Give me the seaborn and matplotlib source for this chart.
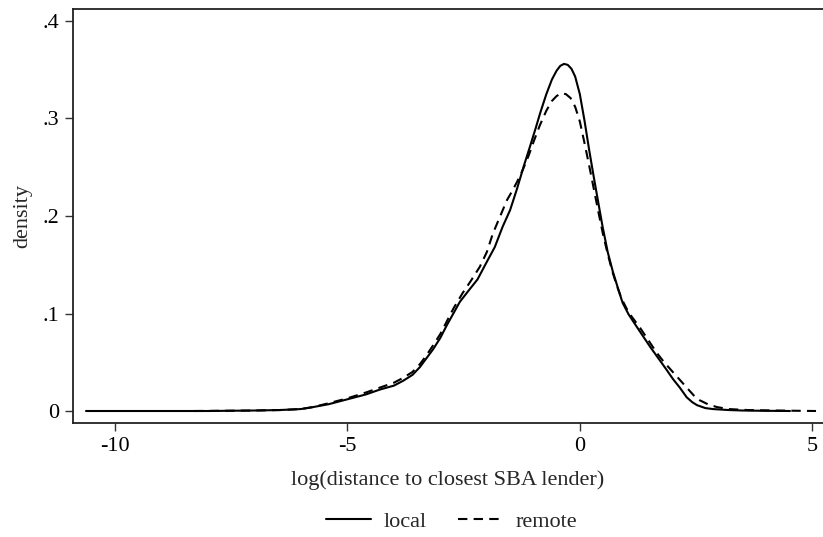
import matplotlib
matplotlib.use("Agg")
import matplotlib.pyplot as plt
import seaborn as sns
import pandas as pd
from matplotlib.lines import Line2D

# Kernel density of log distance to the closest SBA lender, by borrower type
local_x = [-10.62, -8.0, -7.0, -6.45, -6.0, -5.74, -5.4, -5.0, -4.6, -4.3, -4.0, -3.8,
           -3.6, -3.44, -3.3, -3.16, -3.0, -2.86, -2.72, -2.58, -2.4, -2.2, -2.0, -1.83,
           -1.66, -1.5, -1.35, -1.2, -1.08, -0.95, -0.85, -0.72, -0.6, -0.5, -0.42,
           -0.34, -0.26, -0.18, -0.1, 0.0, 0.1, 0.2, 0.3, 0.4, 0.49, 0.6, 0.71, 0.82, 0.92,
           1.05, 1.23, 1.37, 1.51, 1.72, 1.87, 2.0, 2.15, 2.3, 2.42, 2.52, 2.7, 2.86,
           3.2, 3.5, 4.0, 4.52]
local_y = [0.0, 0.0, 0.0005, 0.001, 0.002, 0.004, 0.007, 0.012, 0.017, 0.022, 0.026, 0.031,
           0.037, 0.045, 0.054, 0.063, 0.075, 0.088, 0.100, 0.112, 0.123, 0.135, 0.153, 0.168,
           0.189, 0.206, 0.228, 0.252, 0.270, 0.290, 0.306, 0.325, 0.340, 0.349, 0.354,
           0.356, 0.355, 0.351, 0.343, 0.325, 0.298, 0.268, 0.240, 0.213, 0.189, 0.163, 0.143,
           0.126, 0.111, 0.099, 0.086, 0.076, 0.066, 0.052, 0.042, 0.033, 0.024, 0.014,
           0.009, 0.006, 0.003, 0.002, 0.001, 0.0005, 0.0002, 0.0]

remote_x = [-8.3, -7.0, -6.45, -6.0, -5.74, -5.4, -5.0, -4.6, -4.3, -4.0, -3.8, -3.6,
            -3.44, -3.3, -3.16, -3.0, -2.86, -2.72, -2.52, -2.35, -2.15, -2.0, -1.87,
            -1.72, -1.57, -1.45, -1.35, -1.23, -1.1, -0.98, -0.86, -0.72, -0.6, -0.5,
            -0.4, -0.3, -0.2, -0.1, 0.0, 0.1, 0.2, 0.3, 0.4, 0.5, 0.6, 0.7, 0.8,
            0.9, 1.05, 1.3, 1.51, 1.65, 1.78, 1.87, 2.0, 2.15, 2.3, 2.45, 2.58,
            2.75, 2.95, 3.2, 3.6, 4.2, 5.08]
remote_y = [0.0, 0.0005, 0.001, 0.002, 0.004, 0.008, 0.013, 0.019, 0.024, 0.029, 0.034, 0.040,
            0.048, 0.057, 0.067, 0.079, 0.092, 0.105, 0.121, 0.133, 0.148, 0.163, 0.182,
            0.199, 0.216, 0.226, 0.235, 0.247, 0.262, 0.278, 0.293, 0.308, 0.318, 0.323,
            0.326, 0.325, 0.321, 0.312, 0.297, 0.275, 0.252, 0.228, 0.204, 0.181, 0.161,
            0.143, 0.128, 0.115, 0.101, 0.085, 0.070, 0.060, 0.052, 0.047, 0.040, 0.032,
            0.024, 0.016, 0.011, 0.007, 0.004, 0.002, 0.001, 0.0005, 0.0]

x_ticks = [-10, -5, 0, 5]
x_tick_labels = ["-10", "-5", "0", "5"]
y_ticks = [0, 0.1, 0.2, 0.3, 0.4]
y_tick_labels = ["0", ".1", ".2", ".3", ".4"]

sns.set_style("ticks")
plt.rcParams["font.family"] = ["Liberation Serif", "DejaVu Serif"]
plt.rcParams["axes.unicode_minus"] = False

local_df = pd.DataFrame({"x": local_x, "density": local_y})
remote_df = pd.DataFrame({"x": remote_x, "density": remote_y})

fig = plt.figure(figsize=(8.23, 5.37), dpi=100)
ax = fig.add_axes([73 / 823, 1 - 423 / 537, 1 - 73 / 823, (423 - 9) / 537])

sns.lineplot(data=local_df, x="x", y="density", sort=False, ax=ax,
             color="black", linewidth=1.5, linestyle="-")
sns.lineplot(data=remote_df, x="x", y="density", sort=False, ax=ax,
             color="black", linewidth=1.5, linestyle=(0, (4.5, 3.0)))

ax.set_xlim(-10.9, 5.23)
ax.set_ylim(-0.0123, 0.4123)
ax.set_xticks(x_ticks)
ax.set_xticklabels(x_tick_labels)
ax.set_yticks(y_ticks)
ax.set_yticklabels(y_tick_labels)

ax.tick_params(axis="both", direction="out", length=6, width=1.0,
               color="#333333", labelsize=16, labelcolor="black", pad=4)
for side in ["left", "bottom", "top"]:
    ax.spines[side].set_color("#222222")
    ax.spines[side].set_linewidth(1.3)
ax.spines["right"].set_visible(False)

ax.set_xlabel("log(distance to closest SBA lender)", fontsize=16, labelpad=10)
ax.set_ylabel("density", fontsize=16, labelpad=7)

handles = [
    Line2D([], [], color="black", linewidth=1.5, linestyle="-"),
    Line2D([], [], color="black", linewidth=1.5, linestyle=(0, (4.5, 3.0))),
]
fig.legend(handles, ["local", "remote"], loc="center", bbox_to_anchor=(0.549, 1 - 522 / 537),
           ncol=2, frameon=False, fontsize=16, handlelength=2.0, columnspacing=1.4,
           handletextpad=0.6)

fig.savefig("out.png", dpi=100, facecolor="white")
